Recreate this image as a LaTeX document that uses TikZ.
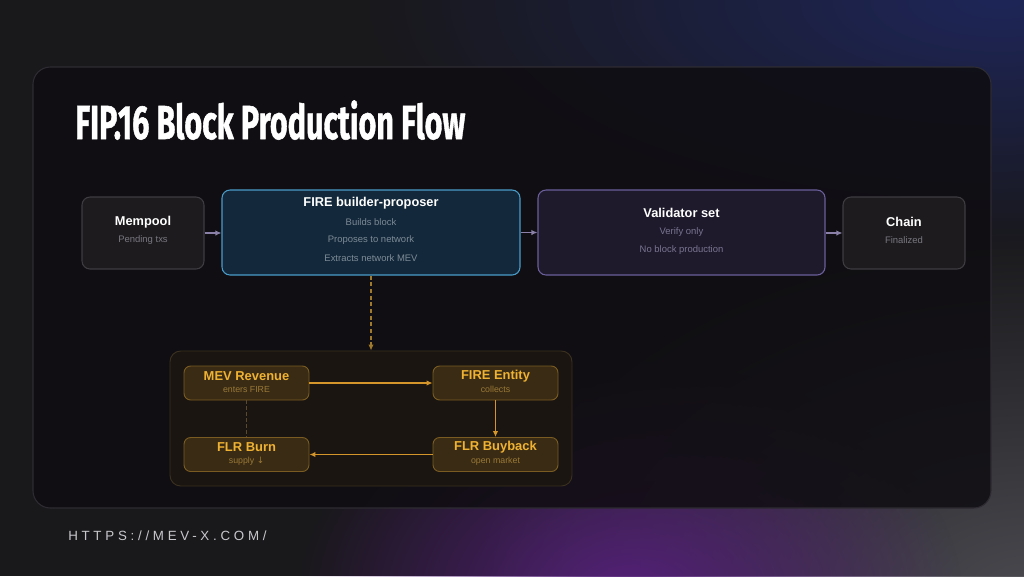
\documentclass[tikz,border=0pt]{standalone}
\usepackage{fontspec}
\usepackage{graphicx}
\usetikzlibrary{arrows.meta,fadings}
\setmainfont{Liberation Sans}
\newfontfamily\titlefont[BoldFeatures={FakeBold=1.2}]{Fira Sans}
\newfontfamily\footfont[LetterSpace=28]{Liberation Sans}
\tikzfading[name=myglow, inner color=transparent!0, outer color=transparent!100]
\definecolor{bg}{HTML}{19181B}
\definecolor{glowblue}{HTML}{1E2658}
\definecolor{glowpurple}{HTML}{55207A}
\definecolor{glowgray}{HTML}{4A4A50}
\definecolor{panelfill}{HTML}{0F0D11}
\definecolor{panelline}{HTML}{2E2C32}
\definecolor{grayfill}{HTML}{1D1B1E}
\definecolor{grayline}{HTML}{3E3C40}
\definecolor{firefill}{HTML}{13283A}
\definecolor{fireline}{HTML}{4A9CC8}
\definecolor{valfill}{HTML}{1E1A2C}
\definecolor{valline}{HTML}{6C5F9C}
\definecolor{subgray}{HTML}{78777F}
\definecolor{subblue}{HTML}{7C8A96}
\definecolor{subval}{HTML}{7A7490}
\definecolor{toparrow}{HTML}{8A80A8}
\definecolor{orangetxt}{HTML}{F0B232}
\definecolor{orangesub}{HTML}{9A7838}
\definecolor{ofill}{HTML}{3A2C14}
\definecolor{oline}{HTML}{7A5C22}
\definecolor{lowfill}{HTML}{1A1510}
\definecolor{lowline}{HTML}{3A3020}
\definecolor{oarrow}{HTML}{D4962A}
\definecolor{odashtop}{HTML}{A07A2C}
\definecolor{odash}{HTML}{5C4A2C}
\definecolor{foot}{HTML}{C8C8CC}
\tikzset{
  topbox/.style={rounded corners=6pt, line width=0.8pt, inner sep=0pt},
  graybox/.style={topbox, draw=grayline, fill=grayfill, minimum width=91.5pt, minimum height=54pt},
  firebox/.style={topbox, draw=fireline, fill=firefill, minimum width=223.5pt, minimum height=63.75pt},
  valbox/.style={topbox, draw=valline, fill=valfill, minimum width=215.25pt, minimum height=63.75pt},
  obox/.style={rounded corners=5pt, line width=0.7pt, draw=oline, fill=ofill, minimum width=93.75pt, minimum height=25.5pt, inner sep=0pt},
  ttl/.style={text=white, font=\bfseries\fontsize{9.6}{11}\selectfont},
  sub/.style={font=\fontsize{7.1}{8}\selectfont},
  ottl/.style={text=orangetxt, font=\bfseries\fontsize{9.7}{11}\selectfont},
  osub/.style={text=orangesub, font=\fontsize{6.6}{7}\selectfont},
  tarrow/.style={draw=toparrow, line width=0.8pt, -{Latex[length=4.5pt,width=4pt]}},
  oarr/.style={draw=oarrow, line width=0.8pt, -{Latex[length=4.5pt,width=4pt]}},
  glow/.style={path fading=myglow},
}
\begin{document}
\begin{tikzpicture}[x=0.75pt, y=-0.75pt]
\useasboundingbox (0,0) rectangle (1024,576);
\fill[bg] (0,0) rectangle (1024,576);
% glows
\fill[glowblue, glow] (1000,0) ellipse [x radius=480pt, y radius=190pt];
\fill[glowgray, glow] (1030,600) ellipse [x radius=420pt, y radius=280pt];
\fill[glowpurple, glow] (630,600) ellipse [x radius=250pt, y radius=180pt];
% main panel
\node[draw=panelline, fill=panelfill, fill opacity=0.85, draw opacity=1, line width=0.8pt, rounded corners=13pt, minimum width=718.5pt, minimum height=330.75pt, inner sep=0pt] (panel) at (512,287.5) {};
% title
\node[anchor=base west, text=white, inner sep=0pt] (title) at (75,139) {\resizebox{292.5pt}{29pt}{\titlefont\bfseries FIP.16 Block Production Flow}};
% top row
\node[graybox] (mem) at (143,233) {};
\node[firebox] (fire) at (371,232.5) {};
\node[valbox] (val) at (681.5,232.5) {};
\node[graybox] (chain) at (904,233) {};
\node[ttl] (memt) at (143,222) {Mempool};
\node[sub, text=subgray] (mems) at (143,240) {Pending txs};
\node[ttl] (firet) at (371,203) {FIRE builder-proposer};
\node[sub, text=subblue] (fires1) at (371,222) {Builds block};
\node[sub, text=subblue] (fires2) at (371,240) {Proposes to network};
\node[sub, text=subblue] (fires3) at (371,258) {Extracts network MEV};
\node[ttl] (valt) at (681.5,213) {Validator set};
\node[sub, text=subval] (vals1) at (681.5,232) {Verify only};
\node[sub, text=subval] (vals2) at (681.5,250) {No block production};
\node[ttl] (chaint) at (904,222) {Chain};
\node[sub, text=subgray] (chains) at (904,240) {Finalized};
\draw[tarrow] (mem.east) -- (fire.west |- mem.east);
\draw[tarrow] (fire.east) -- (val.west);
\draw[tarrow] (val.east |- chain.west) -- (chain.west);
% lower panel
\node[draw=lowline, fill=lowfill, line width=0.7pt, rounded corners=8pt, minimum width=301.5pt, minimum height=101.25pt, inner sep=0pt] (low) at (371,418.5) {};
\draw[odashtop, line width=0.8pt, dash pattern=on 3pt off 2pt, -{Latex[length=4.5pt,width=4pt]}] (fire.south) -- (low.north);
\node[obox] (mev) at (246.5,383) {};
\node[obox] (ent) at (495.5,383) {};
\node[obox] (burn) at (246.5,454.5) {};
\node[obox] (buy) at (495.5,454.5) {};
\node[ottl] (mevt) at (246.5,376) {MEV Revenue};
\node[osub] (mevs) at (246.5,389.5) {enters FIRE};
\node[ottl] (entt) at (495.5,376) {FIRE Entity};
\node[osub] (ents) at (495.5,389.5) {collects};
\node[ottl] (burnt) at (246.5,447.5) {FLR Burn};
\node[osub] (burns) at (246.5,461) {supply {\fontspec{DejaVu Sans}↓}};
\node[ottl] (buyt) at (495.5,447.5) {FLR Buyback};
\node[osub] (buys) at (495.5,461) {open market};
\draw[oarr] (mev.east) -- (ent.west);
\draw[oarr] (ent.south) -- (buy.north);
\draw[oarr] (buy.west) -- (burn.east);
\draw[odash, line width=0.7pt, dash pattern=on 2.5pt off 2pt] (mev.south) -- (burn.north);
% footer
\node[anchor=base west, text=foot, inner sep=0pt, font=\footfont\fontsize{10}{12}\selectfont] (footer) at (68,540) {HTTPS://MEV-X.COM/};
\end{tikzpicture}
\end{document}
